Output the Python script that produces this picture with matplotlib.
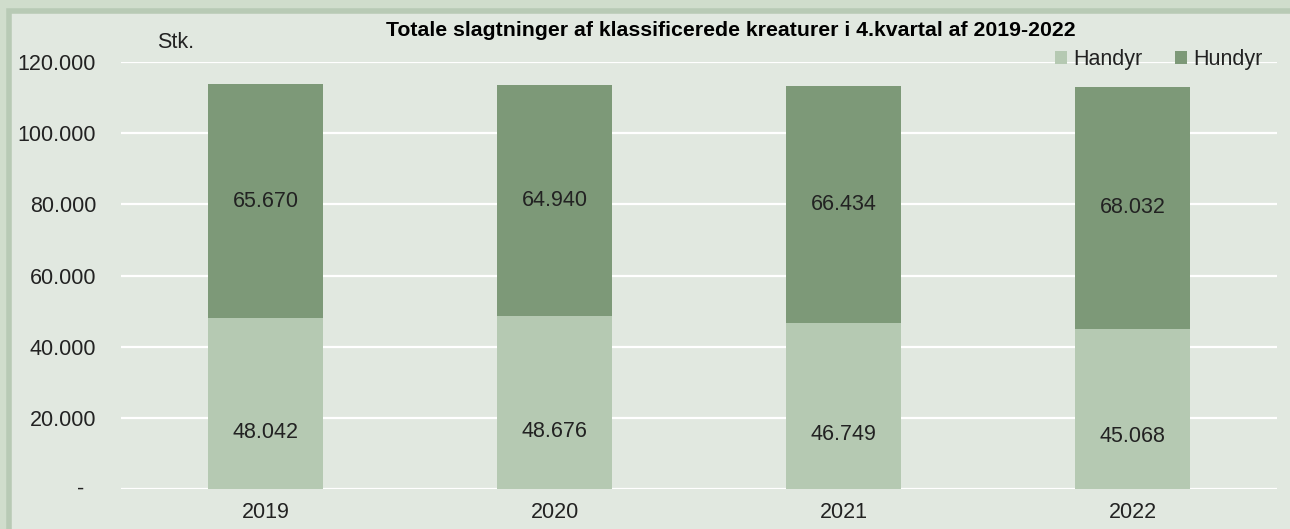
import matplotlib.pyplot as plt
from matplotlib.patches import Rectangle
from matplotlib.ticker import FuncFormatter

plt.rcParams['font.family'] = ['Liberation Sans', 'DejaVu Sans']

years = ['2019', '2020', '2021', '2022']
handyr = [48042, 48676, 46749, 45068]
hundyr = [65670, 64940, 66434, 68032]
yticks = [0, 20000, 40000, 60000, 80000, 100000, 120000]

c_handyr = '#b5c9b2'
c_hundyr = '#7d9978'
bg = '#e1e8e0'
FS = 15.5


def dk_fmt(x, pos):
    if x == 0:
        return ''
    return f"{int(x):,}".replace(',', '.')


fig = plt.figure(figsize=(12.9, 5.29), dpi=100)
fig.patch.set_facecolor('#d0ddcc')
# inner panel with slightly darker frame
fig.patches.append(Rectangle((9 / 1290, -0.01), 1.02, 1 - 11 / 529 + 0.01,
                             transform=fig.transFigure, facecolor=bg,
                             edgecolor='#b8cab5', linewidth=4, zorder=-10))

ax = fig.add_axes([121 / 1290, 40 / 529, (1277 - 121) / 1290, (489 - 62) / 529])
ax.patch.set_alpha(0)

x = range(len(years))
ax.bar(x, handyr, width=0.4, color=c_handyr, label='Handyr', zorder=2)
ax.bar(x, hundyr, width=0.4, bottom=handyr, color=c_hundyr, label='Hundyr', zorder=2)

for i in x:
    ax.text(i, handyr[i] * 0.33, dk_fmt(handyr[i], None), ha='center', va='center',
            fontsize=FS, color='#222222', zorder=3)
    ax.text(i, handyr[i] + hundyr[i] / 2, dk_fmt(hundyr[i], None), ha='center', va='center',
            fontsize=FS, color='#222222', zorder=3)

ax.set_xlim(-0.5, len(years) - 0.5)
ax.set_ylim(0, 120000)
ax.set_yticks(yticks)
ax.yaxis.set_major_formatter(FuncFormatter(dk_fmt))
ax.set_xticks(list(x))
ax.set_xticklabels(years)
ax.grid(axis='y', color='white', linewidth=1.6, zorder=1)
ax.set_axisbelow(True)
for s in ax.spines.values():
    s.set_visible(False)
ax.tick_params(length=0, labelsize=FS, colors='#222222')
ax.tick_params(axis='y', pad=18)
ax.tick_params(axis='x', pad=9)
# zero shown as a dash, set in a bit like Excel's accounting format
ax.text(-0.0346, 0, '-', transform=ax.get_yaxis_transform(), ha='center', va='center',
        fontsize=FS, color='#222222')

fig.text(731 / 1290, 1 - 30 / 529, 'Totale slagtninger af klassificerede kreaturer i 4.kvartal af 2019-2022',
         ha='center', va='center', fontsize=15.3, fontweight='bold', color='black')
fig.text(157 / 1290, 1 - 43 / 529, 'Stk.', ha='left', va='center', fontsize=FS, color='#222222')

leg = ax.legend(loc='upper right', bbox_to_anchor=(0.995, 1.05), ncol=2, frameon=False,
                fontsize=FS, handlelength=0.55, handleheight=0.55, handletextpad=0.3,
                columnspacing=1.5, borderaxespad=0)
for t in leg.get_texts():
    t.set_color('#222222')

fig.savefig('out.png', dpi=100, facecolor=fig.get_facecolor())
